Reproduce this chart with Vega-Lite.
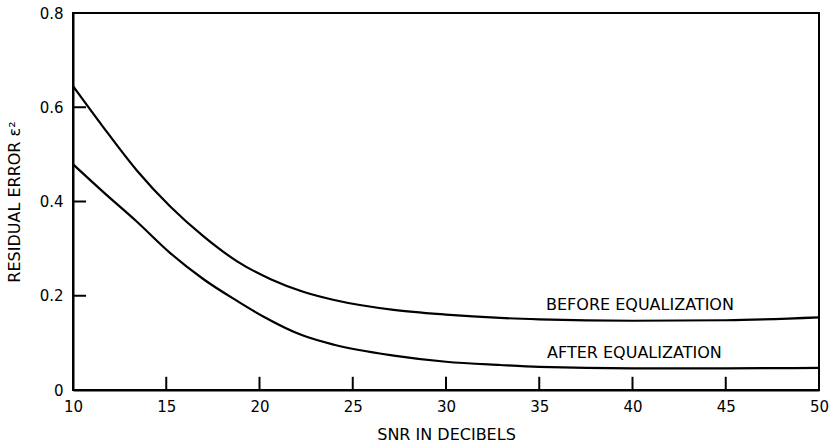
{
  "$schema": "https://vega.github.io/schema/vega-lite/v6.json",
  "autosize": "none",
  "width": 746,
  "height": 377,
  "padding": {"left": 73, "top": 13, "right": 13, "bottom": 55},
  "background": "white",
  "config": {
    "view": {"stroke": "black", "strokeWidth": 2},
    "font": "DejaVu Sans",
    "axis": {
      "grid": false,
      "ticks": false,
      "domainColor": "black",
      "domainWidth": 2,
      "labelColor": "black",
      "labelFont": "DejaVu Sans",
      "labelFontSize": 15,
      "titleColor": "black",
      "titleFont": "DejaVu Sans",
      "titleFontSize": 16,
      "titleFontWeight": "normal"
    }
  },
  "datasets": {
    "curves": [
      {"snr": 10, "err": 0.645, "series": "Before equalization"},
      {"snr": 11.6, "err": 0.559, "series": "Before equalization"},
      {"snr": 13.4, "err": 0.467, "series": "Before equalization"},
      {"snr": 15.2, "err": 0.390, "series": "Before equalization"},
      {"snr": 17.0, "err": 0.326, "series": "Before equalization"},
      {"snr": 18.8, "err": 0.273, "series": "Before equalization"},
      {"snr": 20.6, "err": 0.235, "series": "Before equalization"},
      {"snr": 22.3, "err": 0.209, "series": "Before equalization"},
      {"snr": 24.0, "err": 0.191, "series": "Before equalization"},
      {"snr": 27.2, "err": 0.170, "series": "Before equalization"},
      {"snr": 30.0, "err": 0.160, "series": "Before equalization"},
      {"snr": 32.9, "err": 0.153, "series": "Before equalization"},
      {"snr": 35, "err": 0.150, "series": "Before equalization"},
      {"snr": 40, "err": 0.147, "series": "Before equalization"},
      {"snr": 45, "err": 0.148, "series": "Before equalization"},
      {"snr": 50, "err": 0.154, "series": "Before equalization"},
      {"snr": 10, "err": 0.479, "series": "After equalization"},
      {"snr": 11.6, "err": 0.421, "series": "After equalization"},
      {"snr": 13.4, "err": 0.358, "series": "After equalization"},
      {"snr": 15.2, "err": 0.291, "series": "After equalization"},
      {"snr": 17.0, "err": 0.235, "series": "After equalization"},
      {"snr": 18.8, "err": 0.189, "series": "After equalization"},
      {"snr": 20.2, "err": 0.156, "series": "After equalization"},
      {"snr": 22.3, "err": 0.116, "series": "After equalization"},
      {"snr": 24.0, "err": 0.096, "series": "After equalization"},
      {"snr": 27.2, "err": 0.073, "series": "After equalization"},
      {"snr": 30.0, "err": 0.060, "series": "After equalization"},
      {"snr": 32.9, "err": 0.053, "series": "After equalization"},
      {"snr": 35, "err": 0.049, "series": "After equalization"},
      {"snr": 40, "err": 0.046, "series": "After equalization"},
      {"snr": 45, "err": 0.046, "series": "After equalization"},
      {"snr": 50, "err": 0.047, "series": "After equalization"}
    ],
    "labels": [
      {"snr": 40.4, "err": 0.18, "label": "BEFORE EQUALIZATION"},
      {"snr": 40.1, "err": 0.078, "label": "AFTER EQUALIZATION"}
    ],
    "xticks": [{"snr": 15}, {"snr": 20}, {"snr": 25}, {"snr": 30}, {"snr": 35}, {"snr": 40}, {"snr": 45}],
    "yticks": [{"err": 0.2}, {"err": 0.4}, {"err": 0.6}]
  },
  "layer": [
    {
      "data": {"name": "curves"},
      "mark": {"type": "line", "color": "black", "strokeWidth": 2.2, "interpolate": "monotone"},
      "encoding": {
        "x": {
          "field": "snr", "type": "quantitative",
          "scale": {"domain": [10, 50], "nice": false, "zero": false},
          "axis": {"title": "SNR IN DECIBELS", "values": [10, 15, 20, 25, 30, 35, 40, 45, 50], "labelPadding": 9, "titlePadding": 12, "labelFlush": false}
        },
        "y": {
          "field": "err", "type": "quantitative",
          "scale": {"domain": [0, 0.8], "nice": false},
          "axis": {"title": "RESIDUAL ERROR ε²", "values": [0, 0.2, 0.4, 0.6, 0.8], "format": ".1~f", "labelPadding": 10, "titlePadding": 17, "labelFlush": false}
        },
        "detail": {"field": "series", "type": "nominal"}
      }
    },
    {
      "data": {"name": "xticks"},
      "mark": {"type": "rule", "color": "black", "strokeWidth": 2},
      "encoding": {
        "x": {"field": "snr", "type": "quantitative"},
        "y": {"datum": 0},
        "y2": {"datum": 0.028}
      }
    },
    {
      "data": {"name": "yticks"},
      "mark": {"type": "rule", "color": "black", "strokeWidth": 2},
      "encoding": {
        "y": {"field": "err", "type": "quantitative"},
        "x": {"datum": 10},
        "x2": {"datum": 10.7}
      }
    },
    {
      "data": {"name": "labels"},
      "mark": {"type": "text", "font": "DejaVu Sans", "fontSize": 16, "color": "black", "baseline": "middle", "align": "center"},
      "encoding": {
        "x": {"field": "snr", "type": "quantitative"},
        "y": {"field": "err", "type": "quantitative"},
        "text": {"field": "label", "type": "nominal"}
      }
    }
  ]
}
